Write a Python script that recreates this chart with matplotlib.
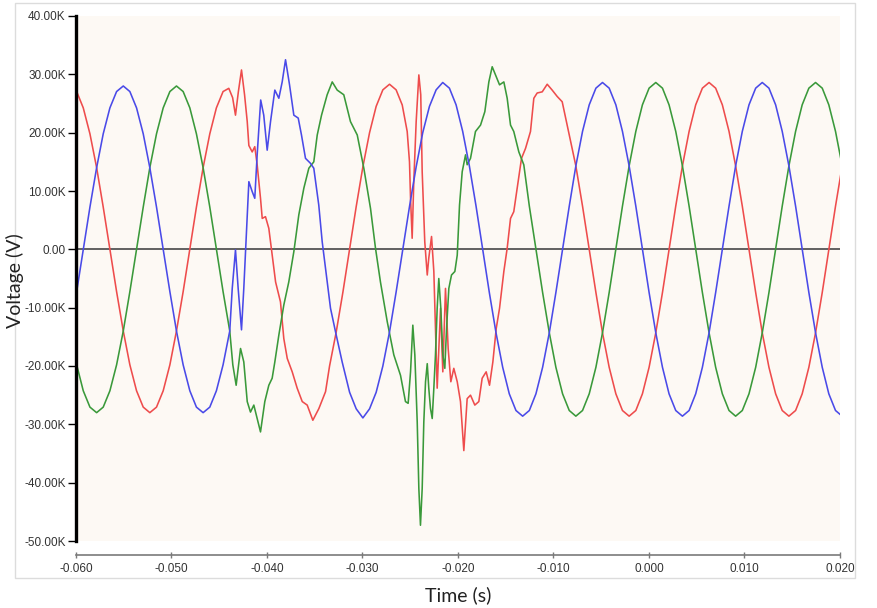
import numpy as np
import matplotlib
matplotlib.use("Agg")
import matplotlib.pyplot as plt
from matplotlib import font_manager as fm
from matplotlib.patches import Rectangle

# ---------------- data (time in ms, voltage in kV) ----------------
red_t = [-60.63, -59.93, -59.24, -58.54, -57.84, -57.15, -56.45, -55.75, -55.05, -54.36,
         -53.66, -52.96, -52.27, -51.57, -50.87, -50.17, -49.48, -48.78, -48.08, -47.39,
         -46.69, -45.99, -45.30, -44.60,
         -44.00, -43.60, -43.30, -43.00, -42.67, -42.35, -42.07, -41.90, -41.55, -41.28,
         -41.03, -40.68, -40.50, -40.16, -39.81, -39.46, -39.10, -38.59, -38.24, -37.88,
         -37.36, -36.84, -36.31, -35.79, -35.20, -34.57, -33.87,
         -33.45, -32.75, -32.05, -31.35, -30.66, -29.96, -29.26, -28.57, -27.87, -27.17, -26.48,
         -25.84, -25.32, -25.08, -24.97, -24.80, -24.63, -24.38, -24.10, -23.90, -23.75,
         -23.48, -23.22, -23.06, -22.77, -22.53, -22.36, -22.18, -21.83, -21.59, -21.31,
         -21.03, -20.75, -20.44, -20.08, -19.74, -19.39, -19.04, -18.69, -18.24, -17.82,
         -17.47, -17.05, -16.70, -16.35, -16.00, -15.65, -15.20, -14.85, -14.50, -14.16,
         -13.80, -13.35, -12.93, -12.41, -12.06, -11.71, -11.18, -10.66, -10.14, -9.61,
         -9.09, -8.57,
         -7.66, -6.96, -6.26, -5.56, -4.87, -4.17, -3.47, -2.78, -2.08, -1.38,
         -0.69, 0.01, 0.71, 1.41, 2.10, 2.80, 3.50, 4.20, 4.89, 5.59,
         6.29, 6.98, 7.68, 8.38, 9.07, 9.77, 10.47, 11.17, 11.86, 12.56,
         13.26, 13.95, 14.65, 15.35, 16.04, 16.74, 17.44, 18.14, 18.83, 19.53, 20.23]
red_v = [28.0, 27.05, 24.25, 19.8, 14.0, 7.25, 0.0, -7.25, -14.0, -19.8,
         -24.25, -27.05, -28.0, -27.05, -24.25, -19.8, -14.0, -7.25, 0.0, 7.25,
         14.0, 19.8, 24.25, 27.05,
         27.6, 26.0, 23.0, 27.0, 30.75, 26.5, 21.9, 17.8, 16.7, 17.6,
         14.5, 8.75, 5.3, 5.6, 3.6, -1.0, -5.6, -9.0, -15.3, -18.7,
         -21.0, -23.8, -26.1, -26.7, -29.3, -27.3, -24.4,
         -20.01, -14.15, -7.32, 0.0, 7.32, 14.15, 20.01, 24.51, 27.34, 28.3, 27.34,
         24.75, 20.2, 15.0, 8.75, 1.9, 11.6, 21.9, 29.9, 26.5, 13.3,
         1.3, -4.4, -1.5, 2.2, -3.8, -13.6, -23.8, -10.1, -21.0, -6.7,
         -17.0, -22.7, -20.4, -22.7, -26.1, -34.5, -25.6, -25.0, -26.7, -26.1,
         -22.1, -21.0, -23.3, -19.3, -13.6, -10.1, -3.8, 0.2, 5.3, 6.45,
         10.5, 15.6, 17.3, 20.2, 25.9, 26.8, 27.0, 28.3, 27.3, 26.2,
         25.3, 21.3,
         14.3, 7.40, 0.0, -7.40, -14.3, -20.22, -24.77, -27.63, -28.6, -27.63,
         -24.77, -20.22, -14.3, -7.40, 0.0, 7.40, 14.3, 20.22, 24.77, 27.63,
         28.6, 27.63, 24.77, 20.22, 14.3, 7.40, 0.0, -7.40, -14.3, -20.22,
         -24.77, -27.63, -28.6, -27.63, -24.77, -20.22, -14.3, -7.40, 0.0, 7.40, 14.3]

blue_t = [-60.63, -59.93, -59.24, -58.54, -57.84, -57.15, -56.45, -55.75, -55.05, -54.36,
          -53.66, -52.96, -52.27, -51.57, -50.87, -50.17, -49.48, -48.78, -48.08, -47.39,
          -46.69, -45.99, -45.30, -44.60, -43.90,
          -43.64, -43.30, -43.02, -42.67, -42.43, -42.18, -41.90, -41.55, -41.28, -41.03,
          -40.66, -40.34, -39.98, -39.63, -39.18, -38.76, -38.41, -38.06, -37.64, -37.19,
          -36.73, -36.39, -35.97, -35.45, -35.10, -34.58, -34.22, -33.70, -33.35, -32.83,
          -32.13,
          -31.35, -30.66, -29.96, -29.26, -28.57, -27.87, -27.17, -26.48, -25.78, -25.08,
          -24.38, -23.69, -22.99, -22.29,
          -21.60, -20.90, -20.20, -19.51, -18.81, -18.11, -17.41, -16.72, -16.02, -15.32,
          -14.63, -13.93, -13.23, -12.53, -11.84, -11.14, -10.44, -9.75, -9.05, -8.35,
          -7.66, -6.96, -6.26, -5.56, -4.87, -4.17, -3.47, -2.78, -2.08, -1.38,
          -0.69, 0.01, 0.71, 1.41, 2.10, 2.80, 3.50, 4.20, 4.89, 5.59,
          6.29, 6.98, 7.68, 8.38, 9.07, 9.77, 10.47, 11.17, 11.86, 12.56,
          13.26, 13.95, 14.65, 15.35, 16.04, 16.74, 17.44, 18.14, 18.83, 19.53, 20.23]
blue_v = [-14.0, -7.25, 0.0, 7.25, 14.0, 19.8, 24.25, 27.05, 28.0, 27.05,
          24.25, 19.8, 14.0, 7.25, 0.0, -7.25, -14.0, -19.8, -24.25, -27.05,
          -28.0, -27.05, -24.25, -19.8, -14.0,
          -6.7, -0.1, -6.7, -13.8, -6.7, 1.9, 11.6, 9.9, 8.75, 16.2,
          25.6, 23.0, 17.0, 21.9, 27.3, 25.9, 28.7, 32.5, 28.2, 23.0,
          22.5, 19.6, 15.6, 14.75, 13.9, 7.6, 1.3, -5.6, -10.1, -14.1,
          -19.3,
          -24.51, -27.34, -28.9, -27.34, -24.51, -20.01, -14.15, -7.32, 0.0, 7.32,
          14.15, 20.01, 24.51, 27.34,
          28.6, 27.63, 24.77, 20.22, 14.3, 7.40, 0.0, -7.40, -14.3, -20.22,
          -24.77, -27.63, -28.6, -27.63, -24.77, -20.22, -14.3, -7.40, 0.0, 7.40,
          14.3, 20.22, 24.77, 27.63, 28.6, 27.63, 24.77, 20.22, 14.3, 7.40,
          0.0, -7.40, -14.3, -20.22, -24.77, -27.63, -28.6, -27.63, -24.77, -20.22,
          -14.3, -7.40, 0.0, 7.40, 14.3, 20.22, 24.77, 27.63, 28.6, 27.63,
          24.77, 20.22, 14.3, 7.40, 0.0, -7.40, -14.3, -20.22, -24.77, -27.63, -28.6]

green_t = [-60.63, -59.93, -59.24, -58.54, -57.84, -57.15, -56.45, -55.75, -55.05, -54.36,
           -53.66, -52.96, -52.27, -51.57, -50.87, -50.17, -49.48, -48.78, -48.08, -47.39,
           -46.69, -45.99, -45.30, -44.60, -43.90,
           -43.58, -43.23, -42.77, -42.43, -42.07, -41.73, -41.38, -41.03, -40.68, -40.23,
           -39.81, -39.46, -39.18, -38.76, -38.24, -37.72, -37.19, -36.67, -36.14, -35.62,
           -35.10, -34.74, -34.29, -33.70, -33.17, -32.65, -31.96, -31.26, -30.55, -29.86,
           -29.16, -28.64, -28.12, -27.41, -26.72, -26.02, -25.50, -25.22, -24.97, -24.73,
           -24.52, -24.27, -24.10, -23.93, -23.75, -23.58, -23.40, -23.22, -23.06, -22.88,
           -22.70, -22.53, -22.36, -22.18, -22.01, -21.80, -21.59, -21.38, -21.20, -20.96,
           -20.68, -20.33, -20.08, -19.84, -19.56, -19.21, -19.04, -18.69, -18.17, -17.64,
           -17.19, -16.77, -16.42, -16.07, -15.65, -15.20, -14.85, -14.50, -14.16, -13.63,
           -13.11,
           -12.53, -11.84, -11.14, -10.44, -9.75, -9.05, -8.35,
           -7.66, -6.96, -6.26, -5.56, -4.87, -4.17, -3.47, -2.78, -2.08, -1.38,
           -0.69, 0.01, 0.71, 1.41, 2.10, 2.80, 3.50, 4.20, 4.89, 5.59,
           6.29, 6.98, 7.68, 8.38, 9.07, 9.77, 10.47, 11.17, 11.86, 12.56,
           13.26, 13.95, 14.65, 15.35, 16.04, 16.74, 17.44, 18.14, 18.83, 19.53, 20.23]
green_v = [-14.0, -19.8, -24.25, -27.05, -28.0, -27.05, -24.25, -19.8, -14.0, -7.25,
           0.0, 7.25, 14.0, 19.8, 24.25, 27.05, 28.0, 27.05, 24.25, 19.8,
           14.0, 7.25, 0.0, -7.25, -14.0,
           -19.8, -23.3, -17.0, -19.3, -26.1, -27.9, -26.7, -29.0, -31.3, -26.1,
           -23.3, -22.1, -19.3, -14.7, -9.55, -5.6, -0.4, 5.9, 10.5, 13.9,
           15.0, 19.6, 23.0, 26.5, 28.7, 27.3, 26.5, 21.9, 19.6, 13.9,
           7.0, 0.2, -5.6, -12.4, -18.1, -21.6, -26.1, -26.4, -21.0, -13.0,
           -18.1, -29.6, -41.0, -47.3, -41.0, -29.6, -22.7, -19.6, -23.8, -27.3,
           -29.0, -23.8, -18.1, -10.1, -5.0, -10.1, -18.1, -20.4, -13.6, -6.7,
           -4.4, -3.8, -1.0, 7.6, 13.3, 16.2, 14.5, 15.6, 20.2, 21.3,
           23.6, 28.7, 31.3, 29.9, 28.2, 28.7, 25.9, 21.3, 20.2, 16.7,
           14.5,
           7.40, 0.0, -7.40, -14.3, -20.22, -24.77, -27.63,
           -28.6, -27.63, -24.77, -20.22, -14.3, -7.40, 0.0, 7.40, 14.3, 20.22,
           24.77, 27.63, 28.6, 27.63, 24.77, 20.22, 14.3, 7.40, 0.0, -7.40,
           -14.3, -20.22, -24.77, -27.63, -28.6, -27.63, -24.77, -20.22, -14.3, -7.40,
           0.0, 7.40, 14.3, 20.22, 24.77, 27.63, 28.6, 27.63, 24.77, 20.22, 14.3]

x_ticks = [-0.060, -0.050, -0.040, -0.030, -0.020, -0.010, 0.000, 0.010, 0.020]
x_labels = ["-0.060", "-0.050", "-0.040", "-0.030", "-0.020", "-0.010", "0.000", "0.010", "0.020"]
y_ticks = [-50000, -40000, -30000, -20000, -10000, 0, 10000, 20000, 30000, 40000]
y_labels = ["-50.00K", "-40.00K", "-30.00K", "-20.00K", "-10.00K", "0.00",
            "10.00K", "20.00K", "30.00K", "40.00K"]

# ---------------- styling ----------------
avail = {f.name for f in fm.fontManager.ttflist}
tick_font = next((f for f in ["Liberation Sans", "Arial"] if f in avail), "DejaVu Sans")
label_font = next((f for f in ["Lato", "Open Sans", "Liberation Sans"] if f in avail), "DejaVu Sans")

W, H = 878, 608
fig = plt.figure(figsize=(W / 100, H / 100), dpi=100)
fig.patch.set_facecolor("white")
fig.patches.append(Rectangle((15 / W, 1 - 578 / H), (855 - 15) / W, (578 - 3) / H,
                             transform=fig.transFigure, fill=False,
                             edgecolor="#dcdcdc", lw=1.0))

ax = fig.add_axes([76 / W, 1 - 541 / H, 764 / W, (541 - 16) / H])
ax.set_facecolor("#fdf9f4")
ax.set_xlim(-0.060, 0.020)
ax.set_ylim(-50000, 40000)

ax.axhline(0, color="#555555", lw=1.3, zorder=1)
series = [(red_t, red_v, "#ee4c4c"), (green_t, green_v, "#3a993a"), (blue_t, blue_v, "#4a4ae8")]
for t, v, c in series:
    ax.plot(np.asarray(t) / 1000.0, np.asarray(v) * 1000.0, color=c, lw=1.15,
            solid_joinstyle="round", zorder=2)

for s in ("top", "right"):
    ax.spines[s].set_visible(False)
ax.spines["left"].set_color("black")
ax.spines["left"].set_linewidth(2.4)
ax.spines["bottom"].set_position(("outward", 10))
ax.spines["bottom"].set_color("#7a7a7a")
ax.spines["bottom"].set_linewidth(1.2)

ax.set_xticks(x_ticks)
ax.set_xticklabels(x_labels)
ax.set_yticks(y_ticks)
ax.set_yticklabels(y_labels)
ax.tick_params(axis="y", direction="out", length=6, width=1, color="black",
               labelsize=8.5, pad=1.5, labelcolor="#333333")
ax.tick_params(axis="x", direction="inout", length=5, width=1, color="#7a7a7a",
               labelsize=8.5, pad=3, labelcolor="#333333")
for lab in ax.get_xticklabels() + ax.get_yticklabels():
    lab.set_family(tick_font)

fig.text(458 / W, 1 - 595 / H, "Time (s)", ha="center", va="center",
         family=label_font, fontsize=14, color="#222222")
fig.text(15 / W, 1 - 281 / H, "Voltage (V)", rotation=90, ha="center", va="center",
         family=label_font, fontsize=14, color="#222222")

fig.savefig("out.png", dpi=100, facecolor="white")
